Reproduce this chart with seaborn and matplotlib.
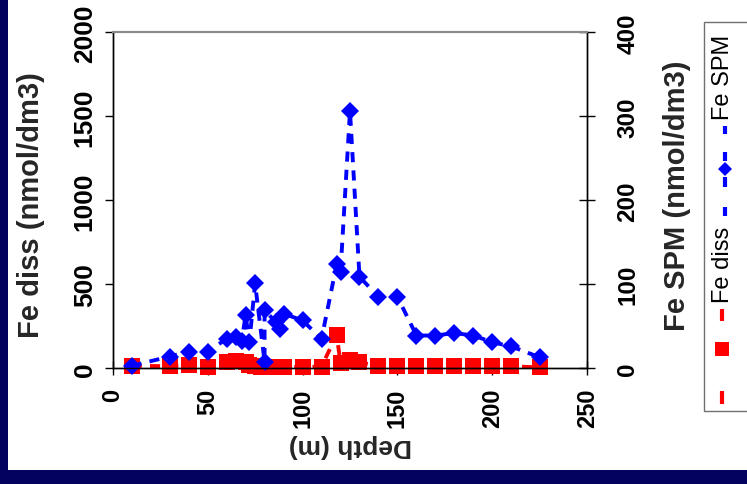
import matplotlib
matplotlib.use("Agg")
import matplotlib.pyplot as plt
import seaborn as sns
import pandas as pd
from matplotlib.lines import Line2D
from matplotlib.patches import Rectangle

# ---- data ----
depth_diss = [10, 30, 40, 50, 60, 65, 70, 72, 75, 78, 80, 85, 90, 100, 110,
              118, 120, 125, 130, 140, 150, 160, 170, 180, 190, 200, 210, 225]
fe_diss = [15, 12, 18, 8, 38, 45, 35, 20, 15, 8, 8, 8, 8, 8, 10,
           200, 30, 50, 35, 15, 12, 12, 12, 12, 12, 12, 12, 5]

depth_spm = [10, 30, 40, 50, 60, 65, 68, 70, 72, 75, 80, 80, 86, 88, 90, 100,
             110, 118, 120, 125, 130, 140, 150, 160, 170, 180, 190, 200, 210, 225]
fe_spm = [3, 14, 20, 20, 35, 37, 33, 63, 31, 101, 8, 69, 55, 47, 65, 57,
          35, 124, 115, 306, 109, 85, 85, 39, 39, 42, 39, 31, 26, 13]

x_ticks = [0, 50, 100, 150, 200, 250]
diss_ticks = [0, 500, 1000, 1500, 2000]
spm_ticks = [0, 100, 200, 300, 400]

x_label = "Depth (m)"
diss_label = "Fe diss (nmol/dm3)"
spm_label = "Fe SPM (nmol/dm3)"
legend_labels = ["Fe diss", "Fe SPM"]

RED = "#FF0000"
BLUE = "#0000FF"
NAVY = "#03035F"

sns.set_style("ticks")
plt.rcParams["font.family"] = ["Liberation Sans", "DejaVu Sans"]

W, H = 747, 485
fig = plt.figure(figsize=(W / 100, H / 100), dpi=100)
fig.patch.set_facecolor(NAVY)


def fx(x):
    return x / W


def fy(y):
    return 1 - y / H


# white panel
fig.add_artist(Rectangle((fx(8), fy(471)), 1 - fx(8), 1 - fy(471) + 0.01,
                         transform=fig.transFigure, facecolor="white",
                         edgecolor="none", zorder=-10))

left, right, top, bottom = 112.7, 587.3, 33.3, 369.3
ax = fig.add_axes([fx(left), fy(bottom), fx(right - left), (bottom - top) / H])
ax.set_facecolor("white")
ax2 = ax.twinx()

df_diss = pd.DataFrame({"depth": depth_diss, "val": fe_diss})
df_spm = pd.DataFrame({"depth": depth_spm, "val": fe_spm})

dash = (0, (2.6, 2.1))
sns.lineplot(data=df_diss, x="depth", y="val", ax=ax, color=RED, sort=False,
             estimator=None, errorbar=None, linewidth=2.8, linestyle=dash,
             marker="s", markersize=11.3, markeredgewidth=0, clip_on=False)
sns.lineplot(data=df_spm, x="depth", y="val", ax=ax2, color=BLUE, sort=False,
             estimator=None, errorbar=None, linewidth=2.8, linestyle=dash,
             marker="D", markersize=8.8, markeredgewidth=0, clip_on=False)

ax.set_xlim(0, 250)
ax.set_ylim(0, 2000)
ax2.set_ylim(0, 400)
ax.set_xticks(x_ticks)
ax.set_xticklabels([str(v) for v in x_ticks])
ax.set_yticks(diss_ticks)
ax.set_yticklabels([str(v) for v in diss_ticks])
ax2.set_yticks(spm_ticks)
ax2.set_yticklabels([str(v) for v in spm_ticks])

for a in (ax, ax2):
    for s in ("left", "right", "bottom"):
        a.spines[s].set_color("black")
        a.spines[s].set_linewidth(1.0)
    a.spines["top"].set_color("#8a8a8a")
    a.spines["top"].set_linewidth(1.5)
    a.grid(False)

ax.tick_params(axis="y", direction="out", length=6, width=1, pad=5.5,
               labelsize=19, colors="black")
ax.tick_params(axis="x", direction="inout", length=10, width=1, pad=9,
               labelsize=17, colors="black")
ax2.tick_params(axis="y", direction="inout", length=12, width=1, pad=15,
                labelsize=17.5, colors="black")

for lab in ax.get_yticklabels():
    lab.set_rotation(90)
    lab.set_va("center")
    lab.set_fontweight("bold")
for lab in ax.get_xticklabels():
    lab.set_rotation(90)
    lab.set_va("top")
    lab.set_ha("center")
    lab.set_fontweight("bold")
for lab in ax2.get_yticklabels():
    lab.set_rotation(90)
    lab.set_va("center")
    lab.set_fontweight("bold")

ax.set_xlabel(x_label, fontsize=19, fontweight="bold", rotation=180,
              ha="center", va="center")
ax.xaxis.set_label_coords(0.5, -0.228)
ax.set_ylabel(diss_label, fontsize=21, fontweight="bold", rotation=90,
              ha="center", va="center")
ax.yaxis.set_label_coords(-0.172, 0.489)
ax2.set_ylabel(spm_label, fontsize=21, fontweight="bold", rotation=90,
               ha="center", va="center")
ax2.yaxis.set_label_coords(1.189, 0.516)

# ---- rotated legend ----
fig.add_artist(Rectangle((fx(704.3), fy(412.3)), 1 - fx(704.3) + 0.01,
                         (412.3 - 23.3) / H, transform=fig.transFigure,
                         facecolor="white", edgecolor="#707070",
                         linewidth=1.0, zorder=5))


def seg(x, y0, y1, color):
    fig.add_artist(Line2D([fx(x), fx(x)], [fy(y0), fy(y1)],
                          transform=fig.transFigure, color=color,
                          linewidth=3.0, solid_capstyle="butt", zorder=6))


# Fe diss handle
seg(722, 392, 405, RED)
seg(722, 310, 322, RED)
fig.add_artist(Line2D([fx(722)], [fy(350)], transform=fig.transFigure,
                      marker="s", markersize=9.6, color=RED,
                      markeredgewidth=0, linestyle="none", zorder=7))
fig.text(fx(723), fy(265), legend_labels[0], rotation=90, ha="center",
         va="center", fontsize=17, color="black", zorder=7)

# Fe SPM handle
for a_, b_ in [(208, 217), (178, 188), (153, 162), (127, 135)]:
    seg(725, a_, b_, BLUE)
fig.add_artist(Line2D([fx(725)], [fy(170)], transform=fig.transFigure,
                      marker="D", markersize=7.6, color=BLUE,
                      markeredgewidth=0, linestyle="none", zorder=7))
fig.text(fx(723), fy(77), legend_labels[1], rotation=90, ha="center",
         va="center", fontsize=17, color="black", zorder=7)

fig.savefig("out.png", dpi=100, facecolor=fig.get_facecolor())
